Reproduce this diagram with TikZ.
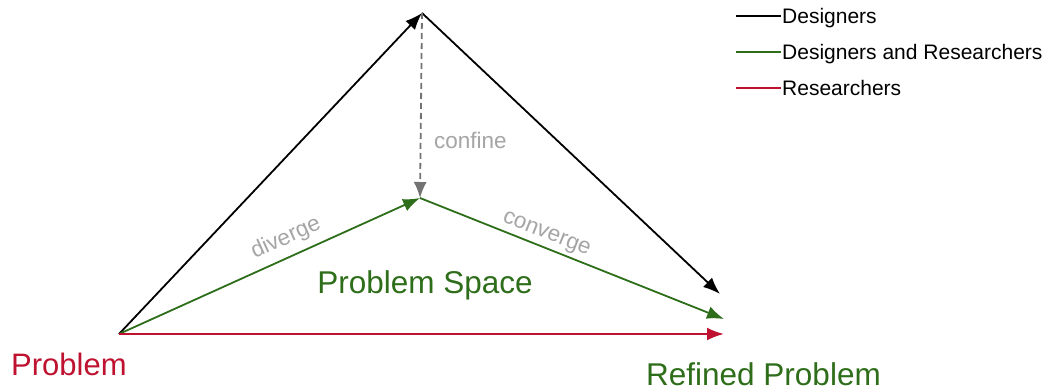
\documentclass[tikz,border=0pt]{standalone}
\usepackage{fontspec}
\setmainfont{Liberation Sans}
\usetikzlibrary{arrows.meta}
\definecolor{dgreen}{RGB}{46,110,26}
\definecolor{dred}{RGB}{190,18,48}
\definecolor{lgray}{RGB}{165,165,165}
\definecolor{dgray}{RGB}{115,115,115}
\tikzset{
  tip/.style={-{Latex[length=17pt,width=13pt]}},
  designers/.style={draw=black, line width=1.8pt},
  both/.style={draw=dgreen, line width=1.8pt},
  research/.style={draw=dred, line width=2.2pt},
  confinearrow/.style={draw=dgray, line width=1.8pt, dash pattern=on 6pt off 4pt},
  phase/.style={text=lgray, font=\fontsize{22.5}{24}\selectfont, inner sep=0pt},
  bigred/.style={text=dred, font=\fontsize{31}{36}\selectfont, inner sep=0pt},
  biggreen/.style={text=dgreen, font=\fontsize{31.5}{36}\selectfont, inner sep=0pt},
  legendtext/.style={font=\fontsize{21}{22}\selectfont, inner sep=0pt, anchor=base west}
}
\begin{document}
\begin{tikzpicture}[x=1pt, y=-1pt]
\useasboundingbox (0,0) rectangle (1052,391);
\fill[white] (0,0) rectangle (1052,391);
% key points
\coordinate (P) at (119,334);
\coordinate (T) at (422,13);
\coordinate (M) at (420,198);
\coordinate (RB) at (720,294);
\coordinate (RG) at (724,319);
\coordinate (RR) at (724,334);
% connectors
\draw[designers, tip] (P) -- (T);
\draw[designers, tip] (T) -- (RB);
\draw[both, tip] (P) -- node[phase, pos=0.58, sloped, above=7pt] (div) {diverge} (M);
\draw[both, tip] (M) -- node[phase, pos=0.40, sloped, above=3pt] (conv) {converge} (RG);
\draw[research, tip] (P) -- (RR);
\draw[confinearrow, -{Latex[length=16pt,width=13pt]}] (T) -- (M);
% labels
\node[phase, anchor=base west] (conf) at (434,148) {confine};
\node[biggreen, anchor=base] (ps) at (425,293) {Problem Space};
\node[bigred, anchor=base west] (prob) at (11,375) {Problem};
\node[biggreen, anchor=base west] (ref) at (646,385) {Refined Problem};
% legend
\coordinate (l1a) at (736,16); \coordinate (l1b) at (781,16);
\coordinate (l2a) at (736,52); \coordinate (l2b) at (781,52);
\coordinate (l3a) at (736,88); \coordinate (l3b) at (781,88);
\draw[designers] (l1a) -- (l1b);
\draw[both] (l2a) -- (l2b);
\draw[research] (l3a) -- (l3b);
\node[legendtext] (lt1) at (782,23) {Designers};
\node[legendtext] (lt2) at (782,59) {Designers and Researchers};
\node[legendtext] (lt3) at (782,95) {Researchers};
\end{tikzpicture}
\end{document}
